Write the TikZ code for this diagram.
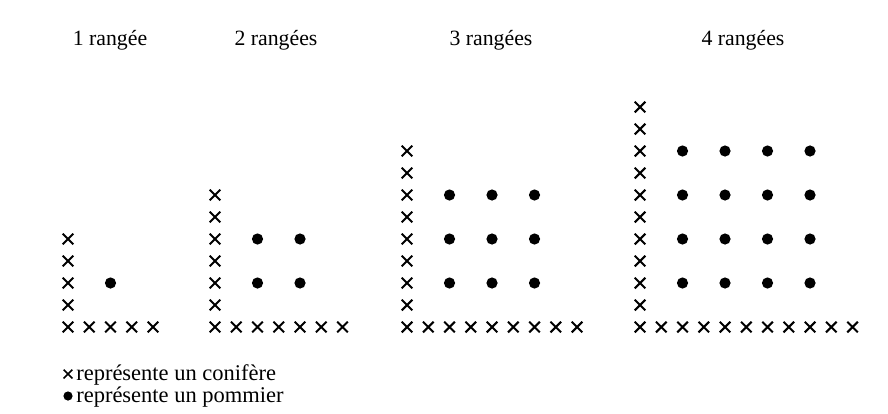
\documentclass[tikz,border=0pt]{standalone}
\usepackage{fontspec}
\setmainfont{Liberation Serif}
\usetikzlibrary{shapes.misc}

\begin{document}
\begin{tikzpicture}[x=0.025cm, y=-0.025cm, every node/.style={font=\fontsize{15.5}{18}\selectfont}, conif/.style={cross out, draw, line width=1.5pt, minimum size=0.21cm, inner sep=0pt}, pomm/.style={circle, fill, minimum size=0.28cm, inner sep=0pt}]
	\useasboundingbox (0,0) rectangle (888,414);
	\foreach \n/\x/\tx/\lab in {1/68/110/{1 rangée}, 2/215/276/{2 rangées}, 3/407/491/{3 rangées}, 4/640/743/{4 rangées}} {
		\node (t\n) at (\tx,40) {\lab};
		\pgfmathtruncatemacro\m{2*\n+2}
		\foreach \i in {0,...,\m} {\node[conif] (b\n-\i) at ({\x+21.25*\i},327) {};}
		\foreach \i in {1,...,\m} {\node[conif] (g\n-\i) at (\x,{327-22*\i}) {};}
		\foreach \i in {1,...,\n} {\foreach \j in {1,...,\n} {\node[pomm] (p\n-\i-\j) at ({\x+42.5*\i},{327-44*\j}) {};}}
	}
	% legend
	\node[conif, minimum size=0.18cm, line width=1.1pt] (lc) at (68,374) {};
	\node[anchor=west, font=\fontsize{16}{18}\selectfont, inner sep=0pt] (lct) at (76,375) {représente un conifère};
	\node[pomm, minimum size=0.23cm] (lp) at (68,396) {};
	\node[anchor=west, font=\fontsize{16}{18}\selectfont, inner sep=0pt] (lpt) at (76,397) {représente un pommier};
\end{tikzpicture}
\end{document}
